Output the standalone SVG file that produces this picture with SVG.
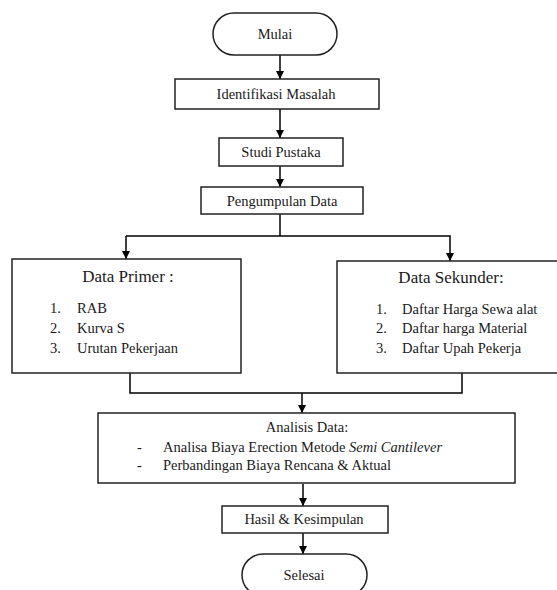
<svg xmlns="http://www.w3.org/2000/svg" width="557" height="590" viewBox="0 0 557 590">
<defs>
<marker id="ah" viewBox="0 0 10 10" refX="10" refY="5" markerWidth="8" markerHeight="9" markerUnits="userSpaceOnUse" orient="auto">
<path d="M0,0 L10,5 L0,10 z" fill="#000"/>
</marker>
<style>
.b{fill:#fff;stroke:#222;stroke-width:1.5}
.c{fill:none;stroke:#000;stroke-width:1.5}
text{fill:#1a1a1a}
.t{font-size:17px}
.m{text-anchor:middle}
</style>
</defs>
<rect width="557" height="590" fill="#fff"/>
<g id="connectors">
<path class="c" d="M280,55 V79" marker-end="url(#ah)"/>
<path class="c" d="M280,109 V138" marker-end="url(#ah)"/>
<path class="c" d="M280,166 V187" marker-end="url(#ah)"/>
<path class="c" d="M280,214 V236"/>
<path class="c" d="M126,236 H450 V261" marker-end="url(#ah)"/>
<path class="c" d="M126,236 V259" marker-end="url(#ah)"/>
<path class="c" d="M130,373 V393 H462 V373"/>
<path class="c" d="M302,393 V413" marker-end="url(#ah)"/>
<path class="c" d="M303,484 V506" marker-end="url(#ah)"/>
<path class="c" d="M303,533 V554" marker-end="url(#ah)"/>
</g>
<g font-family="'Liberation Serif', 'Times New Roman', serif" font-size="14.5">
<g id="mulai">
<rect class="b" x="213" y="13" width="124" height="42" rx="21"/>
<text class="m" x="275" y="39">Mulai</text>
</g>
<g id="identifikasi">
<rect class="b" x="175" y="79" width="204" height="30"/>
<text class="m" x="276" y="99">Identifikasi Masalah</text>
</g>
<g id="studi">
<rect class="b" x="219" y="138" width="124" height="28"/>
<text class="m" x="281" y="157">Studi Pustaka</text>
</g>
<g id="pengumpulan">
<rect class="b" x="201" y="187" width="162" height="27"/>
<text class="m" x="282" y="206">Pengumpulan Data</text>
</g>
<g id="primer">
<rect class="b" x="12" y="259" width="229" height="114"/>
<text class="t m" x="128" y="282">Data Primer :</text>
<text x="50" y="313">1.</text><text x="77" y="313">RAB</text>
<text x="50" y="333">2.</text><text x="77" y="333">Kurva S</text>
<text x="50" y="353">3.</text><text x="77" y="353">Urutan Pekerjaan</text>
</g>
<g id="sekunder">
<rect class="b" x="337" y="261" width="225" height="112"/>
<text class="t m" x="451" y="283">Data Sekunder:</text>
<text x="376" y="314">1.</text><text x="402" y="314">Daftar Harga Sewa alat</text>
<text x="376" y="333">2.</text><text x="402" y="333">Daftar harga Material</text>
<text x="376" y="353">3.</text><text x="402" y="353">Daftar Upah Pekerja</text>
</g>
<g id="analisis">
<rect class="b" x="98" y="413" width="417" height="70"/>
<text class="m" x="307" y="432">Analisis Data:</text>
<text x="137" y="452">-</text><text x="163" y="452">Analisa Biaya Erection Metode <tspan font-style="italic">Semi Cantilever</tspan></text>
<text x="137" y="470">-</text><text x="163" y="470">Perbandingan Biaya Rencana &amp; Aktual</text>
</g>
<g id="hasil">
<rect class="b" x="222" y="506" width="166" height="27"/>
<text class="m" x="304" y="524">Hasil &amp; Kesimpulan</text>
</g>
<g id="selesai">
<rect class="b" x="242" y="554" width="125" height="42" rx="21"/>
<text class="m" x="304" y="580">Selesai</text>
</g>
</g>
</svg>
